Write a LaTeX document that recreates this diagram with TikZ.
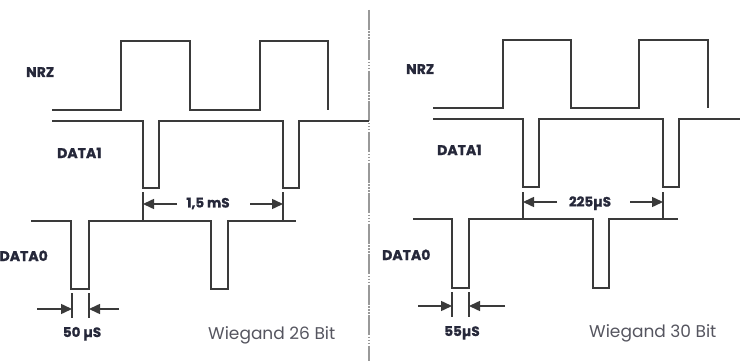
\documentclass[tikz,border=0pt]{standalone}
\usepackage{fontspec}
\setmainfont{Poppins}[BoldFeatures={FakeBold=1.2}]
\usetikzlibrary{arrows.meta}
\definecolor{ln}{HTML}{3A3A3A}
\definecolor{lbl}{HTML}{26283A}
\definecolor{wg}{HTML}{55555F}
\tikzset{
  sig/.style={draw=ln, line width=1.8pt, line join=miter},
  dimline/.style={draw=ln, line width=1.5pt},
  dimarrow/.style={draw=ln, line width=1.5pt, -{Triangle[length=11pt,width=10pt]}},
  siglabel/.style={inner sep=0pt, anchor=base west, text=lbl, font=\fontsize{14}{14}\selectfont\bfseries},
  dimlabel/.style={inner sep=0pt, anchor=base, text=lbl, font=\fontsize{13.5}{13.5}\selectfont\bfseries},
  titlelabel/.style={inner sep=0pt, anchor=base west, text=wg, font=\fontsize{17}{17}\selectfont},
}
\begin{document}
\begin{tikzpicture}[x=1pt,y=-1pt]
\useasboundingbox (0,0) rectangle (740,361);
% divider
\draw[draw=gray!80, line width=2pt, dash pattern=on 20pt off 1.5pt on 1.5pt off 1.5pt on 1.5pt off 1.5pt on 1.5pt off 1.5pt] (369,10) -- (369,361);

% ===== Left panel =====
\node[siglabel] (nrzL) at (26,77) {NRZ};
\node[siglabel] (d1L) at (57,158) {DATA1};
\node[siglabel, anchor=base east] (d0L) at (48,261) {DATA0};
\draw[sig] (52,110) -- (121,110) -- (121,41) -- (190,41) -- (190,110) -- (260,110) -- (260,41) -- (328,41) -- (328,110);
\draw[sig] (52,121) -- (143,121) -- (143,188) -- (159,188) -- (159,121) -- (283,121) -- (283,188) -- (299,188) -- (299,121) -- (369,121);
\draw[sig] (31,221) -- (71,221) -- (71,289) -- (89,289) -- (89,221) -- (211,221) -- (211,289) -- (228,289) -- (228,221) -- (296,221);
% 1,5 mS
\coordinate (aL1) at (143,204);
\coordinate (aL2) at (283,204);
\draw[dimline] (143,192) -- (143,221);
\draw[dimline] (283,192) -- (283,221);
\draw[dimarrow] (177,204) -- (aL1);
\draw[dimarrow] (250,204) -- (aL2);
\node[dimlabel] (tL1) at (208,207.5) {1,5 mS};
% 50 uS
\coordinate (bL1) at (72,309);
\coordinate (bL2) at (89,309);
\draw[dimline] (72,293) -- (72,318);
\draw[dimline] (89,293) -- (89,318);
\draw[dimarrow] (37,309) -- (bL1);
\draw[dimarrow] (119,309) -- (bL2);
\node[dimlabel] (tL2) at (82,337) {50 µS};
\node[titlelabel] (wL) at (208,339) {Wiegand 26 Bit};

% ===== Right panel =====
\node[siglabel] (nrzR) at (406,74) {NRZ};
\node[siglabel] (d1R) at (437,155) {DATA1};
\node[siglabel] (d0R) at (382,260) {DATA0};
\draw[sig] (433,108) -- (503,108) -- (503,40) -- (571,40) -- (571,108) -- (639,108) -- (639,40) -- (708,40) -- (708,108);
\draw[sig] (433,119) -- (523,119) -- (523,187) -- (539,187) -- (539,119) -- (663,119) -- (663,187) -- (679,187) -- (679,119) -- (740,119);
\draw[sig] (413,219) -- (452,219) -- (452,288) -- (469,288) -- (469,219) -- (593,219) -- (593,288) -- (609,288) -- (609,219) -- (678,219);
% 225 uS
\coordinate (aR1) at (523,202);
\coordinate (aR2) at (663,202);
\draw[dimline] (523,192) -- (523,219);
\draw[dimline] (663,192) -- (663,219);
\draw[dimarrow] (557,202) -- (aR1);
\draw[dimarrow] (630,202) -- (aR2);
\node[dimlabel] (tR1) at (590,206.5) {225µS};
% 55 uS
\coordinate (bR1) at (452,306);
\coordinate (bR2) at (469,306);
\draw[dimline] (452,292) -- (452,317);
\draw[dimline] (469,292) -- (469,317);
\draw[dimarrow] (418,306) -- (bR1);
\draw[dimarrow] (505,306) -- (bR2);
\node[dimlabel] (tR2) at (462,336) {55µS};
\node[titlelabel] (wR) at (589,337) {Wiegand 30 Bit};
\end{tikzpicture}
\end{document}
